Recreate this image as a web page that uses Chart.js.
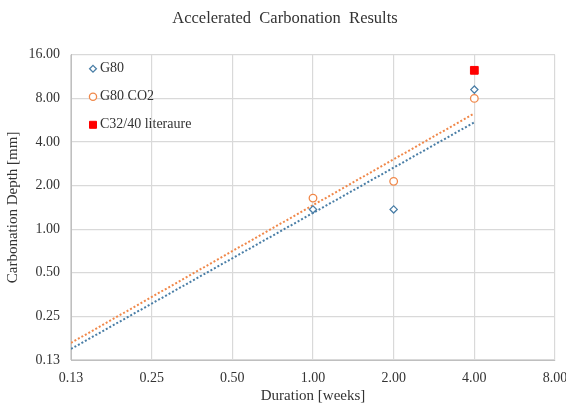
<!DOCTYPE html>
<html>
<head>
<meta charset="utf-8">
<script src="https://cdn.jsdelivr.net/npm/chart.js@4.4.1/dist/chart.umd.min.js"></script>
<style>
  html, body { margin: 0; padding: 0; background: #fff; }
  #wrap { width: 566px; height: 405px; position: relative; }
</style>
</head>
<body>
<div id="wrap"><canvas id="chart"></canvas></div>
<script>
// data
const durations = [1, 2, 4];
const g80 = [1.37, 1.37, 9.2];
const g80Co2 = [1.64, 2.14, 8.0];
const literatureX = [4];
const literature = [12.5];
const trendX = [0.125, 4];
const g80Trend = [0.149, 5.47];
const co2Trend = [0.164, 6.3];
const xTicks = [0.125, 0.25, 0.5, 1, 2, 4, 8];
const yTicks = [0.125, 0.25, 0.5, 1, 2, 4, 8, 16];

const blue = "#4A7EA6";
const orange = "#F0884A";
const textColor = "#333333";
const gridColor = "#D9D9D9";
const serif = "'Liberation Serif', 'Times New Roman', serif";

const toPoints = (xs, ys) => xs.map((x, i) => ({ x: x, y: ys[i] }));

// legend drawn inside the plot, top left, like the original
const insideLegend = {
  id: "insideLegend",
  afterDatasetsDraw(chart) {
    const ctx = chart.ctx;
    const area = chart.chartArea;
    const items = chart.data.datasets.filter((d) => !d.label.includes("trend"));
    ctx.save();
    ctx.font = "14px " + serif;
    ctx.textBaseline = "middle";
    ctx.textAlign = "left";
    items.forEach((ds, i) => {
      const x = area.left + 22;
      const y = area.top + 14 + i * 28;
      ctx.lineWidth = ds.borderWidth;
      ctx.strokeStyle = ds.borderColor;
      ctx.fillStyle = ds.backgroundColor;
      ctx.beginPath();
      if (ds.pointStyle === "rectRot") {
        const r = 3.4;
        ctx.moveTo(x, y - r);
        ctx.lineTo(x + r, y);
        ctx.lineTo(x, y + r);
        ctx.lineTo(x - r, y);
        ctx.closePath();
      } else if (ds.pointStyle === "circle") {
        ctx.arc(x, y, 3.6, 0, Math.PI * 2);
      } else {
        ctx.rect(x - 3.5, y - 3.5, 7, 7);
      }
      ctx.fill();
      ctx.stroke();
      ctx.fillStyle = textColor;
      ctx.fillText(ds.label, x + 7, y);
    });
    ctx.restore();
  },
};

new Chart(document.getElementById("chart"), {
  type: "scatter",
  data: {
    datasets: [
      {
        label: "G80",
        data: toPoints(durations, g80),
        pointStyle: "rectRot",
        pointRadius: 3.6,
        borderColor: blue,
        backgroundColor: "#fff",
        borderWidth: 1.3,
      },
      {
        label: "G80 CO2",
        data: toPoints(durations, g80Co2),
        pointStyle: "circle",
        pointRadius: 3.8,
        borderColor: orange,
        backgroundColor: "#fff",
        borderWidth: 1.3,
      },
      {
        label: "C32/40 literaure",
        data: toPoints(literatureX, literature),
        pointStyle: "rect",
        pointRadius: 5.5,
        borderColor: "#FF0000",
        backgroundColor: "#FF0000",
        borderWidth: 1,
      },
      {
        label: "g80-trend",
        data: toPoints(trendX, g80Trend),
        showLine: true,
        pointRadius: 0,
        borderColor: blue,
        borderWidth: 2,
        borderDash: [2, 2],
      },
      {
        label: "co2-trend",
        data: toPoints(trendX, co2Trend),
        showLine: true,
        pointRadius: 0,
        borderColor: orange,
        borderWidth: 2,
        borderDash: [2, 2],
      },
    ],
  },
  plugins: [insideLegend],
  options: {
    responsive: true,
    maintainAspectRatio: false,
    animation: false,
    layout: { padding: { top: 5, right: 0, left: 4, bottom: 0 } },
    plugins: {
      tooltip: { enabled: false },
      legend: { display: false },
      title: {
        display: true,
        text: "Accelerated  Carbonation  Results",
        color: textColor,
        font: { family: serif, size: 16.5, weight: "normal" },
        padding: { top: 4, bottom: 26 },
      },
    },
    scales: {
      x: {
        type: "logarithmic",
        min: 0.125,
        max: 8,
        afterBuildTicks: (axis) => {
          axis.ticks = xTicks.map((v) => ({ value: v }));
        },
        afterFit: (scale) => {
          scale.paddingRight = 11;
          scale.height = 45;
        },
        grid: { color: gridColor, lineWidth: 1.2, drawTicks: false },
        border: { color: "#BFBFBF" },
        ticks: {
          color: textColor,
          padding: 9.5,
          maxRotation: 0,
          font: { family: serif, size: 14 },
          callback: (v) => Number(v).toFixed(2),
        },
        title: {
          display: true,
          text: "Duration [weeks]",
          color: textColor,
          font: { family: serif, size: 15 },
          padding: { top: 1, bottom: 0 },
        },
      },
      y: {
        type: "logarithmic",
        min: 0.125,
        max: 16,
        afterBuildTicks: (axis) => {
          axis.ticks = yTicks.map((v) => ({ value: v }));
        },
        afterFit: (scale) => {
          scale.width = 67;
        },
        grid: { color: gridColor, lineWidth: 1.2, drawTicks: false },
        border: { color: "#BFBFBF" },
        ticks: {
          color: textColor,
          padding: 11,
          font: { family: serif, size: 14 },
          callback: (v) => Number(v).toFixed(2),
        },
        title: {
          display: true,
          text: "Carbonation Depth [mm]",
          color: textColor,
          font: { family: serif, size: 15 },
          padding: { top: 0, bottom: 0 },
        },
      },
    },
  },
});
</script>
</body>
</html>
